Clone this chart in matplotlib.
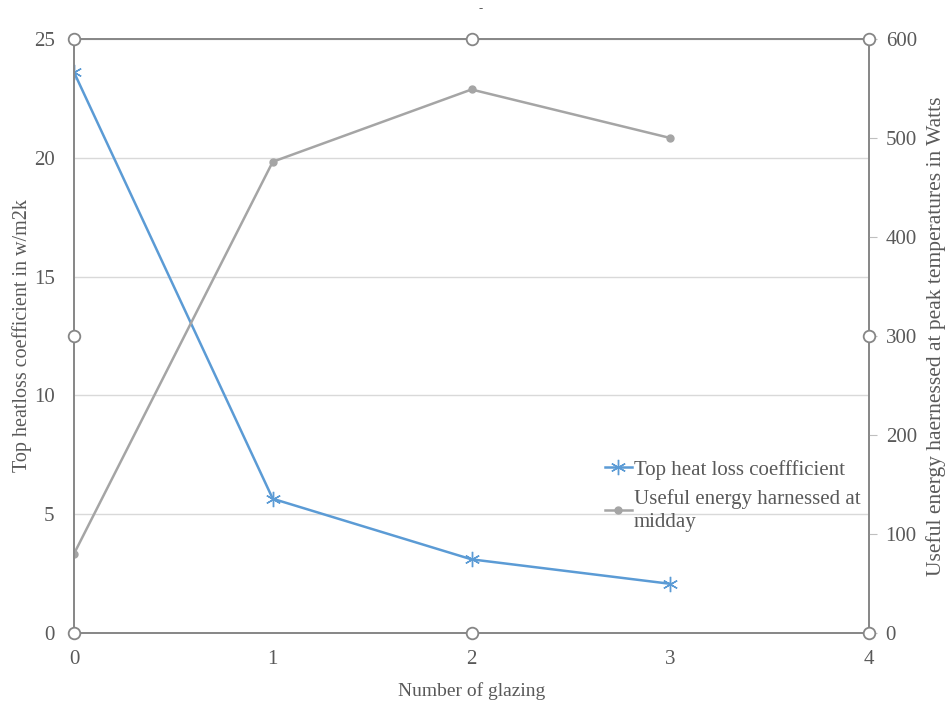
import numpy as np
import matplotlib
matplotlib.use("Agg")
import matplotlib.pyplot as plt

plt.rcParams['font.family'] = ['Liberation Serif', 'DejaVu Serif']

# data
glazing = [0, 1, 2, 3]
heat_loss = [23.6, 5.65, 3.1, 2.07]      # w/m2k, left axis
energy = [80, 476, 549, 500]             # Watts, right axis

blue = '#5B9BD5'
grey = '#A5A5A5'
txt = '#595959'
axis_col = '#868686'

fig = plt.figure(figsize=(9.52, 7.01), dpi=100)
ax = fig.add_axes([74/952, 68/701, 795/952, 594/701])
ax2 = ax.twinx()

ln1, = ax.plot(glazing, heat_loss, color=blue, lw=1.8, marker=(6, 2, 0),
               markersize=11, markeredgewidth=1.0, label='Top heat loss coeffficient')
ln2, = ax2.plot(glazing, energy, color=grey, lw=1.8, marker='o', markersize=5,
                label='Useful energy harnessed at\nmidday')

ax.set_xlim(0, 4)
ax.set_ylim(0, 25)
ax2.set_ylim(0, 600)
ax.set_xticks(range(5))
ax.set_yticks(range(0, 26, 5))
ax2.set_yticks(range(0, 601, 100))

ax.grid(axis='y', color='#D9D9D9', lw=1)
ax.set_axisbelow(True)

for a in (ax, ax2):
    for s in a.spines.values():
        s.set_color(axis_col)
        s.set_linewidth(1.2)
ax.tick_params(axis='x', length=0, labelsize=15, labelcolor=txt, pad=12)
ax.tick_params(axis='y', length=0, labelsize=15, labelcolor=txt, pad=14)
ax2.tick_params(axis='y', length=6, color='#BFBFBF', labelsize=15, labelcolor=txt, pad=6)

ax.set_xlabel('Number of glazing', fontsize=14, color=txt, labelpad=10)
ax.set_ylabel('Top heatloss coefficient in w/m2k', fontsize=14.5, color=txt)
ax.yaxis.set_label_coords(-0.053, 0.5)
ax2.set_ylabel('Useful energy haernessed at peak temperatures in Watts', fontsize=15.5,
               color=txt)
ax2.yaxis.set_label_coords(1.072, 0.5)

# selection handles around the plot area (on the right-axis scale)
hx = [0, 2, 4, 0, 4, 0, 2, 4]
hy = [0, 0, 0, 300, 300, 600, 600, 600]
ax2.scatter(hx, hy, s=70, facecolor='white', edgecolor=axis_col, linewidth=1.3,
            zorder=10, clip_on=False)

fig.text(0.505, 0.983, '-', color=txt, fontsize=9, ha='center')

leg = ax2.legend(handles=[ln1, ln2], loc='upper left', bbox_to_anchor=(0.635, 0.344),
                 bbox_transform=fig.transFigure, frameon=False, fontsize=15,
                 handlelength=1.3, handletextpad=0.1, labelspacing=0.45,
                 borderpad=0, borderaxespad=0)
for t in leg.get_texts():
    t.set_color(txt)
    t.set_linespacing(1.3)

fig.savefig('out.png', dpi=100)
